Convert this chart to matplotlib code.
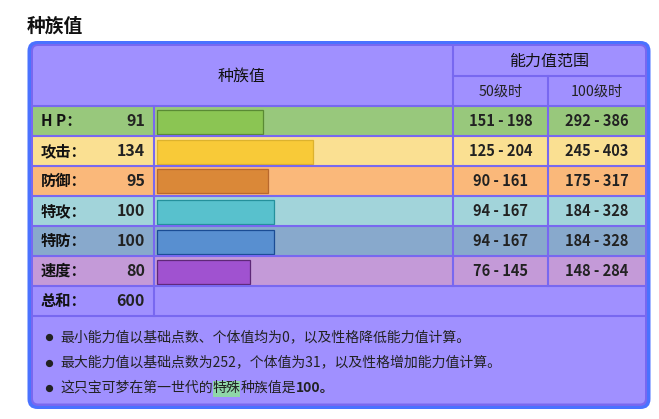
import matplotlib
matplotlib.use("Agg")
import matplotlib.pyplot as plt
from matplotlib.patches import FancyBboxPatch, Rectangle

plt.rcParams['font.family'] = ['Noto Sans CJK SC', 'DejaVu Sans']

# data
stat_names = ["H P：", "攻击：", "防御：", "特攻：", "特防：", "速度："]
base_stats = [91, 134, 95, 100, 100, 80]
range_50 = ["151 - 198", "125 - 204", "90 - 161", "94 - 167", "94 - 167", "76 - 145"]
range_100 = ["292 - 386", "245 - 403", "175 - 317", "184 - 328", "184 - 328", "148 - 284"]
total_label = "总和："
total_value = 600
notes = [
    "最小能力值以基础点数、个体值均为0，以及性格降低能力值计算。",
    "最大能力值以基础点数为252，个体值为31，以及性格增加能力值计算。",
]
last_note = [("这只宝可梦在第一世代的", "normal", None),
             ("特殊", "normal", "#8fd6a8"),
             ("种族值是", "normal", None),
             ("100。", "bold", None)]

# colours
row_bg = ["#98c87c", "#fae092", "#fab87a", "#a2d4da", "#88a9cc", "#c49ad8"]
bar_face = ["#8bc553", "#f8ca38", "#da8838", "#58c1cd", "#588fd0", "#a052d0"]
bar_edge = ["#5a8a34", "#dcb22e", "#b8682e", "#24909c", "#1a4c94", "#5e2878"]
lavender = "#a090ff"
grid = "#7868f0"
blue = "#4a72ff"
txt = "#222222"

fig = plt.figure(figsize=(6.59, 4.19), dpi=100)
ax = fig.add_axes([0, 0, 1, 1])
ax.set_xlim(0, 659)
ax.set_ylim(419, 0)
ax.axis("off")

ax.text(27, 26, "种族值", fontsize=13.5, fontweight="bold", va="center", ha="left", color="#111")

# frame
ax.add_patch(FancyBboxPatch((27.5, 41), 623, 368, boxstyle="round,pad=0,rounding_size=10",
                            fc=blue, ec="none"))
ax.add_patch(FancyBboxPatch((31, 44), 616, 362, boxstyle="round,pad=0,rounding_size=7",
                            fc=grid, ec="none"))
ax.add_patch(FancyBboxPatch((33, 46), 612, 357.5, boxstyle="round,pad=0,rounding_size=5",
                            fc=lavender, ec="none"))

row_top = 106
row_h = 30
lw = 1.5

# row backgrounds
for i, c in enumerate(row_bg):
    ax.add_patch(Rectangle((33, row_top + i * row_h), 612, row_h, fc=c, ec="none"))

# bars
ys = [row_top + i * row_h + row_h / 2 + 0.5 for i in range(len(base_stats))]
px_per_point = 1.17
ax.barh(ys, [v * px_per_point for v in base_stats], height=24, left=156.5,
        color=bar_face, edgecolor=bar_edge, linewidth=0.9, zorder=3)

# grid lines
n = len(base_stats)
for i in range(n + 2):
    y = row_top + i * row_h
    ax.plot([33, 645], [y, y], color=grid, lw=lw, zorder=4)
ax.plot([453, 645], [76, 76], color=grid, lw=lw, zorder=4)
ax.plot([153.5, 153.5], [row_top, row_top + (n + 1) * row_h], color=grid, lw=lw, zorder=4)
ax.plot([453, 453], [46, row_top + n * row_h], color=grid, lw=lw, zorder=4)
ax.plot([548, 548], [76, row_top + n * row_h], color=grid, lw=lw, zorder=4)

# header
ax.text(242, 76, "种族值", fontsize=11.5, ha="center", va="center", color="#111")
ax.text(549, 61, "能力值范围", fontsize=11.5, ha="center", va="center", color="#111")
ax.text(500.5, 92, "50级时", fontsize=10.2, ha="center", va="center", color=txt)
ax.text(596.5, 92, "100级时", fontsize=10.2, ha="center", va="center", color=txt)

# rows
for i in range(n):
    y = row_top + i * row_h + row_h / 2
    ax.text(41, y, stat_names[i], fontsize=11, fontweight="bold", ha="left", va="center", color="#111")
    ax.text(145, y, str(base_stats[i]), fontsize=11.5, fontweight="bold", ha="right", va="center", color=txt)
    ax.text(500.5, y, range_50[i], fontsize=10.5, fontweight="bold", ha="center", va="center", color=txt)
    ax.text(596.5, y, range_100[i], fontsize=10.5, fontweight="bold", ha="center", va="center", color=txt)
yt = row_top + n * row_h + row_h / 2
ax.text(41, yt, total_label, fontsize=11, fontweight="bold", ha="left", va="center", color="#111")
ax.text(145, yt, str(total_value), fontsize=11.5, fontweight="bold", ha="right", va="center", color=txt)

# notes
note_y = [337, 362.5, 388]
for y in note_y:
    ax.plot(49, y, marker="o", ms=4.2, color="#222", zorder=5)
for y, s in zip(note_y, notes):
    ax.text(60, y, s, fontsize=10, ha="left", va="center", color=txt)

fig.canvas.draw()
r = fig.canvas.get_renderer()
inv = ax.transData.inverted()
x = 60
for s, w, hl in last_note:
    t = ax.text(x, note_y[2], s, fontsize=10, fontweight=w, ha="left", va="center", color=txt, zorder=6)
    bb = t.get_window_extent(r)
    x1 = inv.transform((bb.x1, bb.y0))[0]
    if hl:
        ax.add_patch(Rectangle((x, note_y[2] - 7), x1 - x, 16, fc=hl, ec="none", zorder=5))
    x = x1

fig.savefig("out.png", dpi=100)
